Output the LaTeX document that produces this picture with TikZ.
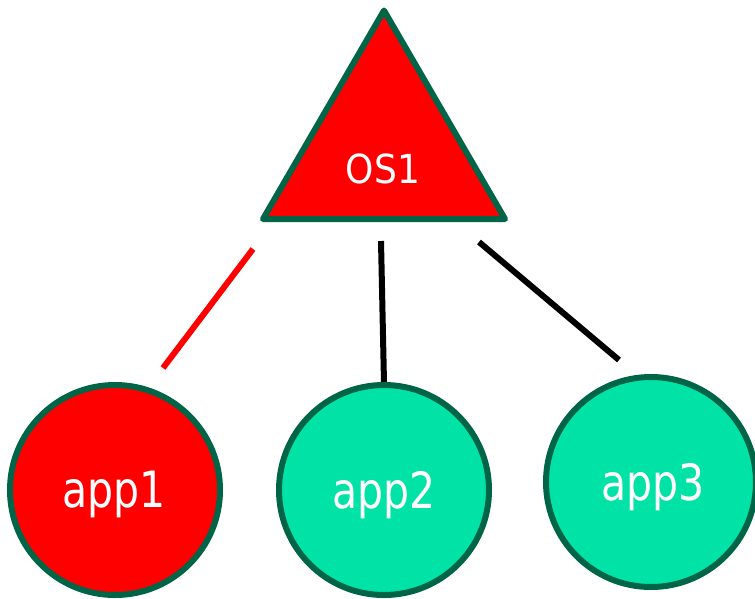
\documentclass[tikz,border=0pt]{standalone}
\usepackage{fontspec}
\setmainfont{DejaVu Sans}
\newfontfamily\appfont[FakeStretch=0.82]{DejaVu Sans}
\newfontfamily\osfont[FakeStretch=0.9]{DejaVu Sans}
\definecolor{rimgreen}{RGB}{0,100,70}
\definecolor{appgreen}{RGB}{0,226,166}
\definecolor{osred}{RGB}{255,0,0}
\tikzset{
  appnode/.style={circle, draw=rimgreen, line width=6pt, minimum size=210pt, inner sep=0pt},
  apptext/.style={text=white, anchor=base, inner sep=0pt, font=\appfont\fontsize{50}{52}\selectfont},
  ostext/.style={text=white, anchor=base, inner sep=0pt, font=\osfont\fontsize{40}{42}\selectfont},
  link/.style={line width=6pt},
}
\begin{document}
\begin{tikzpicture}[x=1pt,y=-1pt]
  \useasboundingbox (0,0) rectangle (755,598);

  % operating system triangle
  \coordinate (apex) at (384,10.5);
  \coordinate (bl) at (263,219);
  \coordinate (br) at (505,219);
  \filldraw[fill=osred, draw=rimgreen, line width=6pt, line join=round] (apex) -- (br) -- (bl) -- cycle;
  \node[ostext] (os1) at (383,183) {OS1};

  % links between OS and applications
  \coordinate (l1a) at (253,249);
  \coordinate (l1b) at (163,368);
  \coordinate (l2a) at (381,241);
  \coordinate (l2b) at (384,383);
  \coordinate (l3a) at (479,242);
  \coordinate (l3b) at (619,360);
  \draw[link, draw=osred] (l1a) -- (l1b);
  \draw[link] (l2a) -- (l2b);
  \draw[link] (l3a) -- (l3b);

  % applications
  \node[appnode, fill=osred] (app1) at (115,490) {};
  \node[appnode, fill=appgreen] (app2) at (384,490) {};
  \node[appnode, fill=appgreen] (app3) at (651,482) {};
  \node[apptext] (t1) at (114,507) {app1};
  \node[apptext] (t2) at (384,508) {app2};
  \node[apptext] (t3) at (653,500) {app3};
\end{tikzpicture}
\end{document}
